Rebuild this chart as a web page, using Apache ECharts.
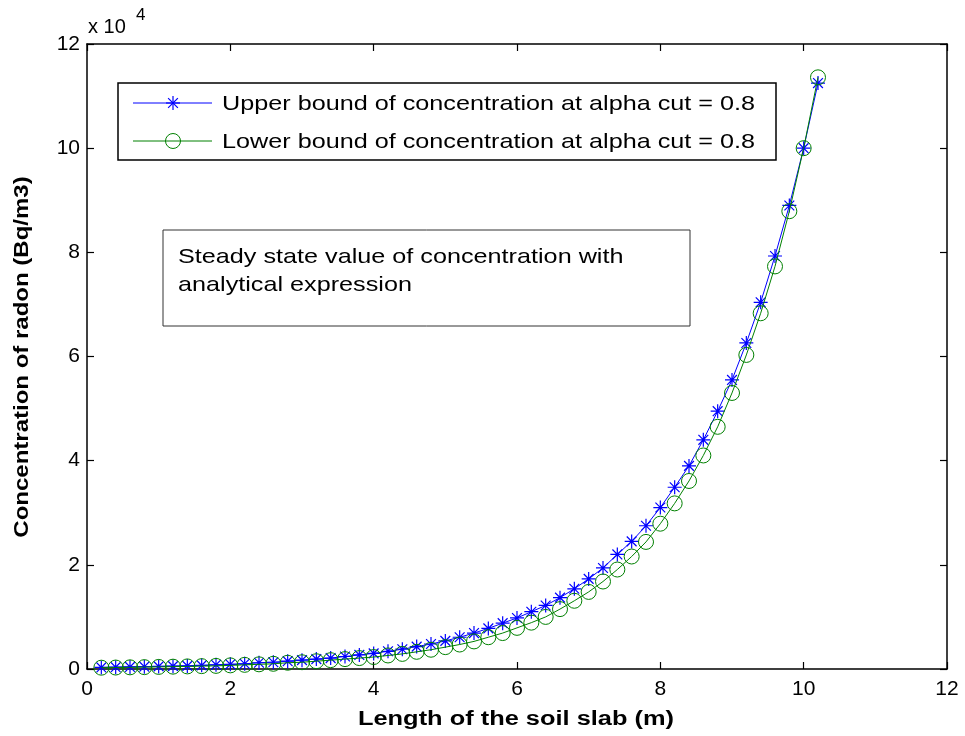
<!DOCTYPE html>
<html>
<head>
<meta charset="utf-8">
<script src="https://cdn.jsdelivr.net/npm/echarts@6/dist/echarts.min.js"></script>
<style>
  html, body { margin: 0; padding: 0; background: #fff; }
  #chart { width: 965px; height: 736px; }
</style>
</head>
<body>
<div id="chart"></div>
<script>
// Length along the soil slab (m)
const lengths = [0.2, 0.4, 0.6, 0.8, 1.0, 1.2, 1.4, 1.6, 1.8, 2.0,
  2.2, 2.4, 2.6, 2.8, 3.0, 3.2, 3.4, 3.6, 3.8, 4.0,
  4.2, 4.4, 4.6, 4.8, 5.0, 5.2, 5.4, 5.6, 5.8, 6.0,
  6.2, 6.4, 6.6, 6.8, 7.0, 7.2, 7.4, 7.6, 7.8, 8.0,
  8.2, 8.4, 8.6, 8.8, 9.0, 9.2, 9.4, 9.6, 9.8, 10.0, 10.2];

// Radon concentration (Bq/m3), upper bound at alpha cut 0.8
const upperBound = [300, 350, 400, 450, 500, 550, 600, 700, 800, 900,
  1000, 1200, 1300, 1500, 1700, 1900, 2100, 2400, 2700, 3000,
  3400, 3800, 4300, 4800, 5400, 6100, 6900, 7800, 8800, 9800,
  11000, 12200, 13700, 15400, 17300, 19400, 22000, 24500, 27500, 31000,
  34900, 39000, 44000, 49500, 55500, 62600, 70400, 79300, 89000, 100000, 112500];

// Radon concentration (Bq/m3), lower bound at alpha cut 0.8
const lowerBound = [250, 280, 320, 360, 400, 450, 500, 550, 600, 700,
  800, 900, 1000, 1200, 1300, 1500, 1700, 1900, 2100, 2300,
  2600, 2900, 3300, 3700, 4200, 4700, 5300, 6100, 6900, 7900,
  8900, 10000, 11500, 13100, 14800, 16800, 19100, 21600, 24400, 27900,
  31800, 36100, 41000, 46500, 53000, 60300, 68300, 77300, 87900, 100000, 113600];

const xTicks = { min: 0, max: 12, interval: 2 };
const yTicks = { min: 0, max: 120000, interval: 20000 };
const yScaleFactor = 10000;

const seriesNames = [
  'Upper bound of concentration at alpha cut = 0.8',
  'Lower bound of concentration at alpha cut = 0.8'
];
const noteLines = ['Steady state value of concentration with', 'analytical expression'];
const xTitle = 'Length of the soil slab (m)';
const yTitle = 'Concentration of radon (Bq/m3)';

const FONT = '"Liberation Sans", Arial, Helvetica, sans-serif';
const BLUE = '#0000ff';
const GREEN = '#008000';
const ASTERISK = 'path://M10,0L10,20M0,10L20,10M3,3L17,17M3,17L17,3';

const pairs = (xs, ys) => xs.map((x, i) => [x, ys[i]]);

const frameAxis = (extra) => Object.assign({
  type: 'value',
  splitLine: { show: false },
  axisLine: { show: true, onZero: false, lineStyle: { color: '#000', width: 1.5 } },
  axisTick: { show: true, inside: true, length: 7, lineStyle: { color: '#000', width: 1.2 } },
  minorTick: { show: false }
}, extra);

const chart = echarts.init(document.getElementById('chart'), null, { renderer: 'canvas' });

// Legend drawn as a boxed group, MATLAB style
function asteriskLines(cx, cy, r, color) {
  const d = r * 0.7;
  return [
    [cx, cy - r, cx, cy + r], [cx - r, cy, cx + r, cy],
    [cx - d, cy - d, cx + d, cy + d], [cx - d, cy + d, cx + d, cy - d]
  ].map(s => ({ type: 'line', shape: { x1: s[0], y1: s[1], x2: s[2], y2: s[3] },
    style: { stroke: color, lineWidth: 1.2 }, silent: true }));
}

const legendGroup = {
  type: 'group',
  children: [
    { type: 'rect', shape: { x: 118, y: 83, width: 658, height: 77 },
      style: { fill: '#fff', stroke: '#000', lineWidth: 1.5 } },
    { type: 'line', shape: { x1: 133, y1: 103, x2: 212, y2: 103 }, style: { stroke: BLUE, lineWidth: 1 } },
    ...asteriskLines(173, 103, 7, BLUE),
    { type: 'text', x: 222, y: 104, scaleX: 1.2,
      style: { text: seriesNames[0], font: '21px ' + FONT, fill: '#000', verticalAlign: 'middle' } },
    { type: 'line', shape: { x1: 133, y1: 141, x2: 212, y2: 141 }, style: { stroke: GREEN, lineWidth: 1 } },
    { type: 'circle', shape: { cx: 173, cy: 141, r: 7.5 }, style: { fill: 'none', stroke: GREEN, lineWidth: 1 } },
    { type: 'text', x: 222, y: 142, scaleX: 1.2,
      style: { text: seriesNames[1], font: '21px ' + FONT, fill: '#000', verticalAlign: 'middle' } }
  ]
};

const noteGroup = {
  type: 'group',
  children: [
    { type: 'rect', shape: { x: 163, y: 230, width: 527, height: 96 },
      style: { fill: '#fff', stroke: '#333', lineWidth: 1 } },
    { type: 'text', x: 178, y: 257, scaleX: 1.2,
      style: { text: noteLines[0], font: '21px ' + FONT, fill: '#000', verticalAlign: 'middle' } },
    { type: 'text', x: 178, y: 285, scaleX: 1.2,
      style: { text: noteLines[1], font: '21px ' + FONT, fill: '#000', verticalAlign: 'middle' } }
  ]
};

const option = {
  backgroundColor: '#fff',
  animation: false,
  grid: { left: 87, right: 18, top: 44, bottom: 67, containLabel: false },
  xAxis: [
    frameAxis(Object.assign({}, xTicks, {
      position: 'bottom',
      axisLabel: { show: true, color: '#000', fontFamily: FONT, fontSize: 21, margin: 10 }
    })),
    frameAxis(Object.assign({}, xTicks, { position: 'top', axisLabel: { show: false } }))
  ],
  yAxis: [
    frameAxis(Object.assign({}, yTicks, {
      position: 'left',
      axisLabel: {
        show: true, color: '#000', fontFamily: FONT, fontSize: 21, margin: 7,
        formatter: v => String(Math.round(v / yScaleFactor))
      }
    })),
    frameAxis(Object.assign({}, yTicks, { position: 'right', axisLabel: { show: false } }))
  ],
  series: [
    {
      name: seriesNames[0], type: 'line', xAxisIndex: 0, yAxisIndex: 0,
      data: pairs(lengths, upperBound),
      symbol: ASTERISK, symbolSize: 14, showAllSymbol: true,
      lineStyle: { color: BLUE, width: 1 },
      itemStyle: { color: BLUE, borderColor: BLUE, borderWidth: 1.2 },
      z: 2
    },
    {
      name: seriesNames[1], type: 'line', xAxisIndex: 0, yAxisIndex: 0,
      data: pairs(lengths, lowerBound),
      symbol: 'circle', symbolSize: 15, showAllSymbol: true,
      lineStyle: { color: GREEN, width: 1 },
      itemStyle: { color: 'rgba(0,0,0,0)', borderColor: GREEN, borderWidth: 1 },
      z: 3
    }
  ],
  graphic: [
    legendGroup,
    noteGroup,
    { type: 'text', x: 88, y: 27,
      style: { text: 'x 10', font: '20px ' + FONT, fill: '#000', verticalAlign: 'middle' } },
    { type: 'text', x: 136, y: 15,
      style: { text: '4', font: '17px ' + FONT, fill: '#000', verticalAlign: 'middle' } },
    { type: 'text', x: 516, y: 719, scaleX: 1.27,
      style: { text: xTitle, font: 'bold 20px ' + FONT, fill: '#000', align: 'center', verticalAlign: 'middle' } },
    { type: 'text', x: 22, y: 357, rotation: Math.PI / 2, scaleX: 1.2,
      style: { text: yTitle, font: 'bold 20px ' + FONT, fill: '#000', align: 'center', verticalAlign: 'middle' } }
  ]
};

chart.setOption(option);
</script>
</body>
</html>
